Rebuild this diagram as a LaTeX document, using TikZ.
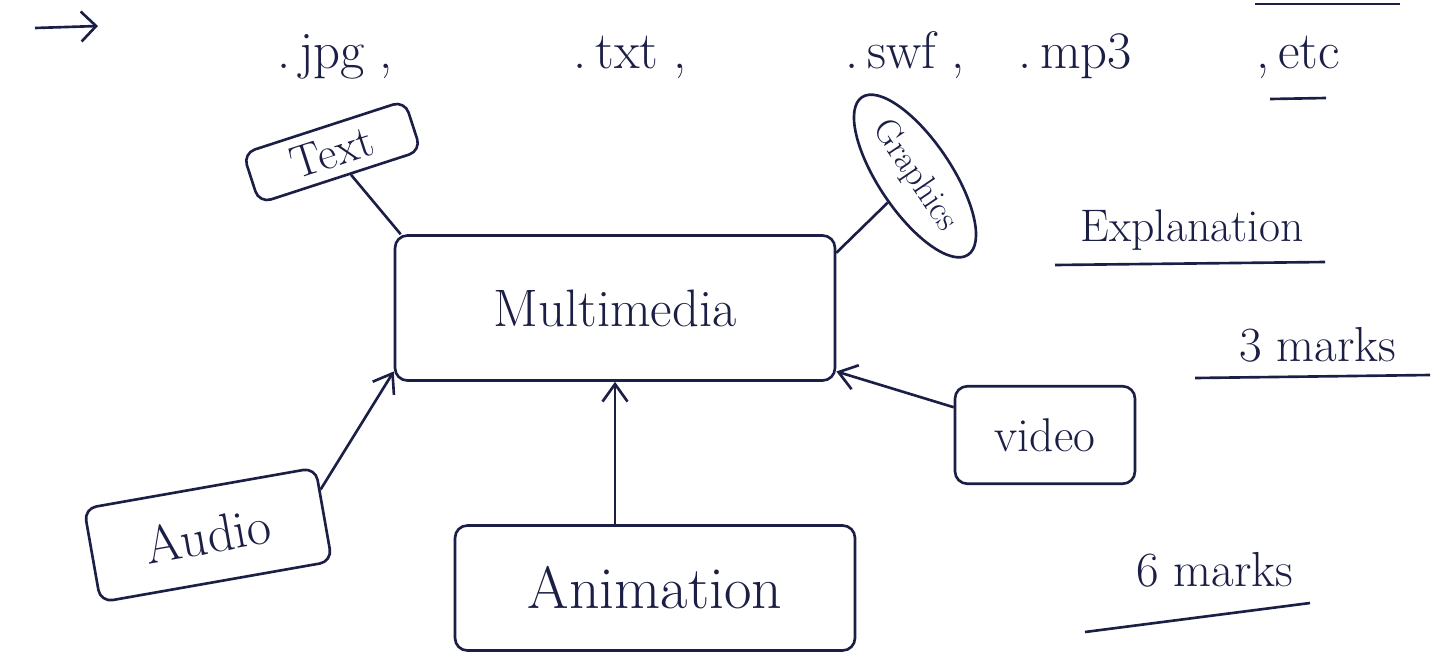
\documentclass[tikz,border=0pt]{standalone}
\usetikzlibrary{arrows.meta,shapes.geometric,positioning}
\definecolor{ink}{HTML}{1C1F45}

\begin{document}
\begin{tikzpicture}[x=0.02cm,y=-0.02cm,
    ink/.style={draw=ink,line width=1.5pt},
    box/.style={ink,rounded corners=7pt,text=ink,inner sep=0pt},
    blob/.style={ink,ellipse,text=ink,inner sep=0pt},
    note/.style={text=ink,inner sep=1pt},
    ext/.style={note,anchor=base,font=\fontsize{30}{32}\selectfont},
    link/.style={ink,-{Straight Barb[length=3.5mm,width=5mm]}}]
\useasboundingbox (0,0) rectangle (1446,663);

% the five media round the middle box
\node[box,minimum width=8.8cm,minimum height=2.9cm,font=\fontsize{30}{32}\selectfont]
    (mm) at (615,308) {Multimedia};
\node[box,minimum width=3.4cm,minimum height=1.05cm,rotate=18,font=\fontsize{26}{28}\selectfont]
    (txt) at (332,152) {Text};
\node[blob,minimum width=3.8cm,minimum height=1.45cm,rotate=-56,font=\fontsize{20}{22}\selectfont]
    (gfx) at (915,176) {Graphics};
\node[box,minimum width=3.6cm,minimum height=1.95cm,font=\fontsize{27}{29}\selectfont]
    (vid) at (1045,435) {video};
\node[box,minimum width=4.7cm,minimum height=1.9cm,rotate=10,font=\fontsize{30}{32}\selectfont]
    (aud) at (208,535) {Audio};
\node[box,minimum width=8cm,minimum height=2.5cm,font=\fontsize{34}{36}\selectfont]
    (anim) at (655,588) {Animation};

\draw[ink] (txt) -- (mm.161);
\draw[ink] (gfx) -- (mm.14);
\draw[link] (aud.12) -- (mm.196);
\draw[link] (anim.north -| mm.south) -- (mm.south);
\draw[link] (vid) -- (mm.-16);

% file types on top
\node[ext] (jpg) at (335,68) {.\,jpg\;,};
\node[ext] (txf) at (630,68) {.\,txt\;,};
\node[ext] (swf) at (905,68) {.\,swf\;,};
\node[ext] (mp3) at (1075,68) {.\,mp3};
\node[ext] (etc) at (1298,68) {,\,etc};
\coordinate (etcl) at (1270,99);
\coordinate (etcr) at (1326,98);
\draw[ink] (etcl) -- (etcr);
\coordinate (topl) at (1255,4);
\coordinate (topr) at (1400,4);
\draw[ink] (topl) -- (topr);

% bullet arrow
\coordinate (bula) at (35,28);
\coordinate (bulb) at (98,26);
\draw[ink,-{Straight Barb[length=3mm,width=6mm]}] (bula) -- (bulb);

% marks on the right
\node[note,font=\fontsize{26}{28}\selectfont] (expl) at (1192,230) {Explanation};
\coordinate (explu) at (1055,265);
\coordinate (explv) at (1325,262);
\draw[ink] (explu) -- (explv);
\node[note,font=\fontsize{28}{30}\selectfont] (mk3) at (1318,345) {3 marks};
\coordinate (mk3u) at (1195,378);
\coordinate (mk3v) at (1430,375);
\draw[ink] (mk3u) -- (mk3v);
\node[note,font=\fontsize{28}{30}\selectfont] (mk6) at (1215,570) {6 marks};
\coordinate (mk6u) at (1085,632);
\coordinate (mk6v) at (1310,603);
\draw[ink] (mk6u) -- (mk6v);
\end{tikzpicture}
\end{document}
